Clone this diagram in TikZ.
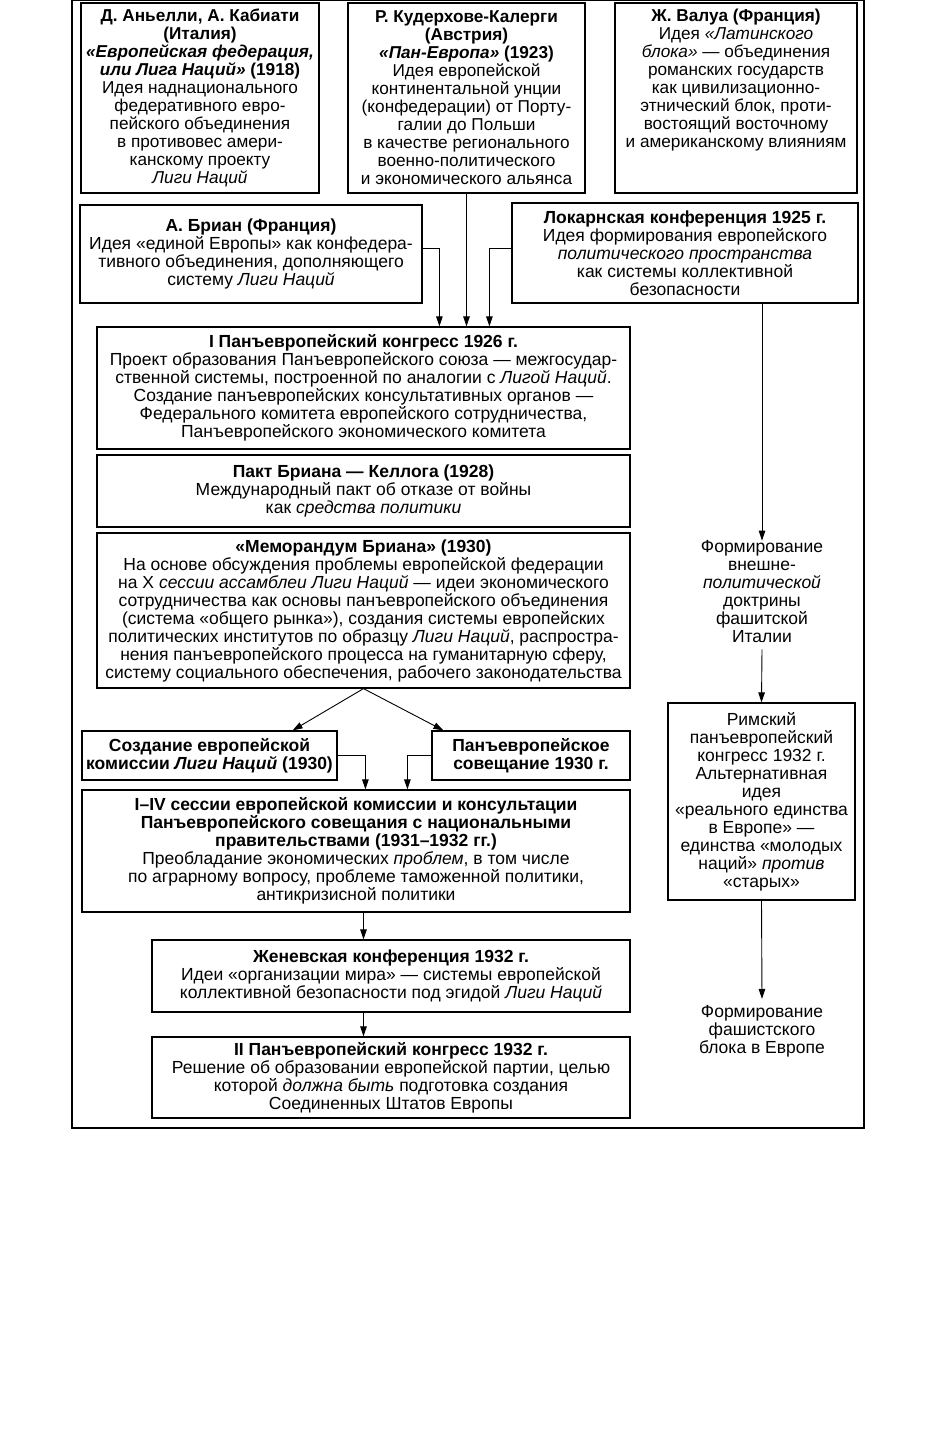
\documentclass[tikz,border=0pt]{standalone}
\usepackage{fontspec}
\setmainfont{Liberation Sans}
\usetikzlibrary{arrows.meta,positioning,calc}

\begin{document}
\begin{tikzpicture}[x=1pt, y=-1pt,
      box/.style={draw, line width=1.2pt, inner sep=0pt, align=center,
                  font=\fontsize{17.5}{18}\selectfont},
      topbox/.style={box, font=\fontsize{17.2}{18}\selectfont},
      txt/.style={inner sep=0pt, align=center, font=\fontsize{17.5}{18}\selectfont},
      arr/.style={-{Triangle[length=10pt,width=6.5pt]}, line width=0.9pt}
    ]
      \fill[white] (0,0) rectangle (936,1438);
      \useasboundingbox (0,0) rectangle (936,1438);
      \draw[line width=1.2pt] (72,0.6) rectangle (864,1128);

      \node[topbox, minimum width=238pt, minimum height=190pt] (agn) at (200,98)
        {\textbf{Д. Аньелли, А. Кабиати}\\\textbf{(Италия)}\\\textbf{\textit{«Европейская федерация,}}\\
         \textbf{\textit{или Лига Наций»} (1918)}\\Идея наднационального\\федеративного евро-\\
         пейского объединения\\в противовес амери-\\канскому проекту\\\textit{Лиги Наций}};
      \node[topbox, minimum width=237pt, minimum height=190pt] (kud) at (466.5,98)
        {\textbf{Р. Кудерхове-Калерги}\\\textbf{(Австрия)}\\\textbf{\textit{«Пан-Европа»} (1923)}\\
         Идея европейской\\континентальной унции\\(конфедерации) от Порту-\\галии до Польши\\
         в качестве регионального\\военно-политического\\и экономического альянса};
      \node[topbox, minimum width=242pt, minimum height=190pt] (val) at (736,98)
        {\parbox[t][178pt][t]{236pt}{\centering\textbf{Ж. Валуа (Франция)}\\Идея \textit{«Латинского}\\
         \textit{блока»} — объединения\\романских государств\\как цивилизационно-\\
         этнический блок, проти-\\востоящий восточному\\и американскому влияниям}};

      \node[box, minimum width=342pt, minimum height=98pt] (brian) at (251,254)
        {\textbf{А. Бриан (Франция)}\\Идея «единой Европы» как конфедера-\\
         тивного объединения, дополняющего\\систему \textit{Лиги Наций}};
      \node[box, minimum width=346pt, minimum height=100pt] (loc) at (685,253)
        {\textbf{Локарнская конференция 1925 г.}\\Идея формирования европейского\\
         \textit{политического пространства}\\как системы коллективной\\безопасности};

      \node[box, minimum width=533pt, minimum height=122pt] (kong1) at (363.5,388)
        {\textbf{I Панъевропейский конгресс 1926 г.}\\
         Проект образования Панъевропейского союза — межгосудар-\\
         ственной системы, построенной по аналогии с \textit{Лигой Наций}.\\
         Создание панъевропейских консультативных органов —\\
         Федерального комитета европейского сотрудничества,\\
         Панъевропейского экономического комитета};
      \node[box, minimum width=533pt, minimum height=72pt] (pakt) at (363.5,491)
        {\textbf{Пакт Бриана — Келлога (1928)}\\Международный пакт об отказе от войны\\
         как \textit{средства политики}};
      \node[box, minimum width=533pt, minimum height=155pt] (memo) at (363.5,610.5)
        {\textbf{«Меморандум Бриана» (1930)}\\
         На основе обсуждения проблемы европейской федерации\\
         на X \textit{сессии ассамблеи Лиги Наций} — идеи экономического\\
         сотрудничества как основы панъевропейского объединения\\
         (система «общего рынка»), создания системы европейских\\
         политических институтов по образцу \textit{Лиги Наций}, распростра-\\
         нения панъевропейского процесса на гуманитарную сферу,\\
         систему социального обеспечения, рабочего законодательства};

      \node[box, minimum width=255pt, minimum height=49pt] (komis) at (209.5,755.5)
        {\textbf{Создание европейской}\\\textbf{комиссии \textit{Лиги Наций} (1930)}};
      \node[box, minimum width=198pt, minimum height=49pt] (sovesch) at (531,755.5)
        {\textbf{Панъевропейское}\\\textbf{совещание 1930 г.}};
      \node[box, minimum width=548pt, minimum height=122pt] (sess) at (356,851)
        {\textbf{I–IV сессии европейской комиссии и консультации}\\
         \textbf{Панъевропейского совещания с национальными}\\
         \textbf{правительствами (1931–1932 гг.)}\\
         Преобладание экономических \textit{проблем}, в том числе\\
         по аграрному вопросу, проблеме таможенной политики,\\
         антикризисной политики};
      \node[box, minimum width=478pt, minimum height=72pt] (genf) at (391,976)
        {\textbf{Женевская конференция 1932 г.}\\
         Идеи «организации мира» — системы европейской\\
         коллективной безопасности под эгидой \textit{Лиги Наций}};
      \node[box, minimum width=478pt, minimum height=81pt] (kong2) at (391,1077.5)
        {\textbf{II Панъевропейский конгресс 1932 г.}\\
         Решение об образовании европейской партии, целью\\
         которой \textit{должна быть} подготовка создания\\
         Соединенных Штатов Европы};

      \node[txt] (doctr) at (762,592)
        {Формирование\\внешне-\\\textit{политической}\\доктрины\\фашитской\\Италии};
      \node[box, minimum width=187pt, minimum height=197pt] (rim) at (761.5,801.5)
        {Римский\\панъевропейский\\конгресс 1932 г.\\Альтернативная\\идея\\«реального единства\\
         в Европе» —\\единства «молодых\\наций» \textit{против}\\«старых»};
      \node[txt] (blok) at (762,1031)
        {Формирование\\фашистского\\блока в Европе};

      \draw[arr] ([yshift=6pt]brian.east) -| ([xshift=343pt]kong1.north west);
      \draw[arr] (kud.south) -- (kud.south |- kong1.north);
      \draw[arr] ([yshift=5pt]loc.west) -| ([xshift=393pt]kong1.north west);
      \draw[arr] (memo.south) -- ([xshift=-45pt]komis.north east);
      \draw[arr] (memo.south) -- ([xshift=12pt]sovesch.north west);
      \draw[arr] (komis.east) -| ([xshift=284pt]sess.north west);
      \draw[arr] (sovesch.west) -| ([xshift=326pt]sess.north west);
      \draw[arr] (sess.south -| kong1.south) -- (genf.north -| kong1.south);
      \draw[arr] (genf.south -| kong1.south) -- (kong2.north -| kong1.south);
      \draw[arr] (doctr.north |- loc.south) -- (doctr.north);
      \draw[arr] ([yshift=-6pt]doctr.south) -- (rim.north);
      \draw[arr] (rim.south) -- ([yshift=6pt]blok.north);
    \end{tikzpicture}
\end{document}
